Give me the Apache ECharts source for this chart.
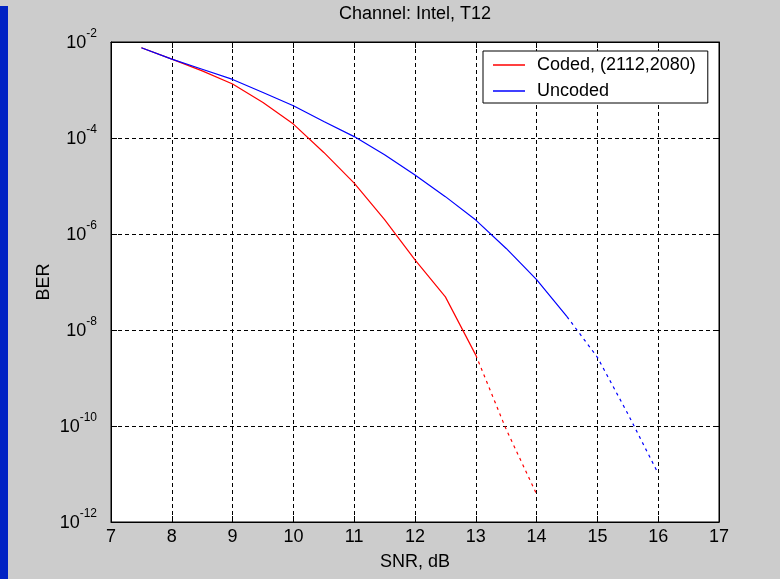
<!DOCTYPE html>
<html>
<head>
<meta charset="utf-8">
<script src="https://cdn.jsdelivr.net/npm/echarts@6/dist/echarts.min.js"></script>
<style>
html,body{margin:0;padding:0;background:#cccccc;}
#chart{width:780px;height:579px;}
</style>
</head>
<body>
<div id="chart"></div>
<script>
// ---- data ----
var snrUncoded = [7.5, 8, 8.5, 9, 9.5, 10, 10.5, 11, 11.5, 12, 12.5, 13, 13.5, 14, 14.5];
var berUncoded = [7.6e-3, 4.4e-3, 2.7e-3, 1.66e-3, 8.9e-4, 4.7e-4, 2.2e-4, 1.07e-4, 4.5e-5, 1.7e-5, 6.0e-6, 1.95e-6, 5.0e-7, 1.12e-7, 1.9e-8];
var snrUncodedExt = [14.5, 15, 15.5, 16];
var berUncodedExt = [1.9e-8, 2.7e-9, 1.8e-10, 1.02e-11];

var snrCoded = [7.5, 8, 8.5, 9, 9.5, 10, 10.5, 11, 11.5, 12, 12.5, 13];
var berCoded = [7.6e-3, 4.4e-3, 2.5e-3, 1.33e-3, 5.5e-4, 1.95e-4, 5.0e-5, 1.15e-5, 2.0e-6, 2.9e-7, 4.9e-8, 3.0e-9];
var snrCodedExt = [13, 13.5, 14];
var berCodedExt = [3.0e-9, 8.5e-11, 3.8e-12];

var xTicks = [7, 8, 9, 10, 11, 12, 13, 14, 15, 16, 17];
var yTickExponents = [-12, -10, -8, -6, -4, -2];

var titleText = 'Channel: Intel, T12';
var xName = 'SNR, dB';
var yName = 'BER';
var legendNames = ['Coded, (2112,2080)', 'Uncoded'];

function pairs(xs, ys) { return xs.map(function (x, i) { return [x, ys[i]]; }); }

var FONT = '"Liberation Sans", Arial, sans-serif';
var FS = 18;
var chart = echarts.init(document.getElementById('chart'), null, {renderer: 'canvas'});

var axisLineStyle = {color: '#000', width: 1};
var option = {
  backgroundColor: '#cccccc',
  animation: false,
  textStyle: {fontFamily: FONT},
  title: {
    text: titleText,
    left: 415, top: 5, padding: 0,
    textAlign: 'center',
    textStyle: {fontFamily: FONT, fontSize: FS, fontWeight: 'normal', color: '#000'}
  },
  graphic: [{
    type: 'rect', left: 0, top: 6, shape: {width: 8, height: 573},
    style: {fill: '#0022c4'}, silent: true
  }],
  grid: {left: 111, right: 61, top: 42, bottom: 57, show: true, backgroundColor: '#fff', borderColor: '#000', borderWidth: 1},
  legend: {
    data: legendNames.map(function (n) { return {name: n, icon: 'rect'}; }),
    orient: 'vertical', align: 'left',
    left: 483, top: 51,
    padding: [5, 12, 3, 10],
    backgroundColor: '#fff', borderColor: '#000', borderWidth: 1, borderRadius: 0,
    itemWidth: 32, itemHeight: 1.5, itemGap: 8,
    textStyle: {fontFamily: FONT, fontSize: FS, color: '#000', lineHeight: 17, padding: [0, 0, 0, 7]}
  },
  xAxis: [{
    type: 'value', min: xTicks[0], max: xTicks[xTicks.length - 1], interval: 1,
    name: xName, nameLocation: 'middle', nameGap: 31,
    nameTextStyle: {fontFamily: FONT, fontSize: FS, color: '#000'},
    axisLine: {show: true, lineStyle: axisLineStyle},
    axisTick: {show: true, inside: true, length: 6, lineStyle: axisLineStyle},
    axisLabel: {fontFamily: FONT, fontSize: FS, color: '#000', margin: 6},
    splitLine: {show: true, lineStyle: {color: '#000', type: [4, 3], width: 1}}
  }, {
    type: 'value', position: 'top', min: xTicks[0], max: xTicks[xTicks.length - 1], interval: 1,
    axisLine: {show: true, lineStyle: axisLineStyle},
    axisTick: {show: true, inside: true, length: 6, lineStyle: axisLineStyle},
    axisLabel: {show: false}, splitLine: {show: false}
  }],
  yAxis: [{
    type: 'log', logBase: 10,
    min: Math.pow(10, yTickExponents[0]), max: Math.pow(10, yTickExponents[yTickExponents.length - 1]),
    interval: 2,
    name: yName, nameLocation: 'middle', nameGap: 58, nameRotate: 90, nameMoveOverlap: false,
    nameTextStyle: {fontFamily: FONT, fontSize: FS, color: '#000'},
    axisLine: {show: true, lineStyle: axisLineStyle},
    axisTick: {show: true, inside: true, length: 6, lineStyle: axisLineStyle},
    minorTick: {show: false},
    axisLabel: {
      margin: 14,
      formatter: function (v) {
        var e = Math.round(Math.log10(v));
        return '{b|10}{s|' + e + '}';
      },
      rich: {
        b: {fontFamily: FONT, fontSize: FS, color: '#000', lineHeight: 28, verticalAlign: 'middle', padding: [2, 0, 0, 0]},
        s: {fontFamily: FONT, fontSize: 12, color: '#000', lineHeight: 10, verticalAlign: 'top'}
      }
    },
    splitLine: {show: true, lineStyle: {color: '#000', type: [4, 3], width: 1}}
  }, {
    type: 'log', logBase: 10, position: 'right',
    min: Math.pow(10, yTickExponents[0]), max: Math.pow(10, yTickExponents[yTickExponents.length - 1]),
    interval: 2,
    axisLine: {show: true, lineStyle: axisLineStyle},
    axisTick: {show: true, inside: true, length: 6, lineStyle: axisLineStyle},
    axisLabel: {show: false}, splitLine: {show: false}
  }],
  series: [{
    name: legendNames[0], type: 'line', showSymbol: false, symbol: 'none',
    data: pairs(snrCoded, berCoded),
    lineStyle: {color: '#ff0000', width: 1.2}, itemStyle: {color: '#ff0000'}, z: 3
  }, {
    name: legendNames[1], type: 'line', showSymbol: false, symbol: 'none',
    data: pairs(snrUncoded, berUncoded),
    lineStyle: {color: '#0000ff', width: 1.2}, itemStyle: {color: '#0000ff'}, z: 4
  }, {
    name: 'coded-ext', type: 'line', showSymbol: false, symbol: 'none',
    data: pairs(snrCodedExt, berCodedExt),
    lineStyle: {color: '#ff0000', width: 1.2, type: [3, 4]}, z: 3
  }, {
    name: 'uncoded-ext', type: 'line', showSymbol: false, symbol: 'none',
    data: pairs(snrUncodedExt, berUncodedExt),
    lineStyle: {color: '#0000ff', width: 1.2, type: [3, 4]}, z: 4
  }]
};
chart.setOption(option);
</script>
</body>
</html>
